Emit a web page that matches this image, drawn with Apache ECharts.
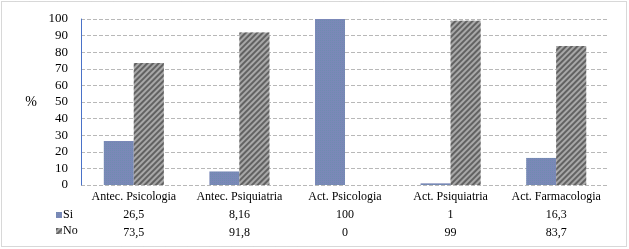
<!DOCTYPE html>
<html><head><meta charset="utf-8">
<script src="https://cdn.jsdelivr.net/npm/echarts@6/dist/echarts.min.js"></script>
<style>html,body{margin:0;padding:0;background:#fff}#c{width:629px;height:249px}</style>
</head><body><div id="c"></div>
<script>
const categories = ['Antec. Psicologia','Antec. Psiquiatria','Act. Psicologia','Act. Psiquiatria','Act. Farmacologia'];
const siValues = [26.5, 8.16, 100, 1, 16.3];
const noValues = [73.5, 91.8, 0, 99, 83.7];
const siLabels = ['26,5','8,16','100','1','16,3'];
const noLabels = ['73,5','91,8','0','99','83,7'];
const yTicks = [0,10,20,30,40,50,60,70,80,90,100];

const font = '"Liberation Serif", "Times New Roman", serif';
const chart = echarts.init(document.getElementById('c'), null, {renderer:'canvas'});
chart.setOption({
  animation:false,
  backgroundColor:'#fff',
  textStyle:{fontFamily:font},
  grid:{left:81,right:20,top:19,bottom:64},
  legend:{
    orient:'vertical', left:51, top:204, itemWidth:6, itemHeight:6, itemGap:4,
    icon:'rect',
    textStyle:{fontFamily:font,fontSize:12,color:'#000',padding:[0,0,0,-4]},
    data:['Si','No']
  },
  xAxis:{
    type:'category', data:categories,
    axisLine:{show:false},
    axisTick:{show:false},
    axisLabel:{
      interval:0, margin:3, fontFamily:font, fontSize:12, color:'#000', lineHeight:18,
      formatter:(v,i)=> v+'\n'+siLabels[i]+'\n'+noLabels[i]
    }
  },
  yAxis:{
    type:'value', min:yTicks[0], max:yTicks[yTicks.length-1], interval:10,
    name:'%', nameLocation:'middle', nameRotate:0, nameGap:44,
    nameTextStyle:{fontFamily:font,fontSize:14,color:'#000'},
    axisLine:{show:true,lineStyle:{color:'#4a72c8',width:1}},
    axisTick:{show:false},
    axisLabel:{margin:13,fontFamily:font,fontSize:13,color:'#000'},
    splitLine:{show:true,lineStyle:{color:'#b8b8b8',type:[4,2],width:1}}
  },
  series:[
    {name:'Si',type:'bar',data:siValues,barWidth:30,barGap:'0%',
     itemStyle:{color:'#7b88b8',decal:{symbol:'rect',color:'rgba(90,150,160,0.35)',dashArrayX:[1,1],dashArrayY:[1,1],symbolSize:1}}},
    {name:'No',type:'bar',data:noValues,barWidth:30,barGap:'0%',
     itemStyle:{color:'#a8a8a8',decal:{symbol:'rect',color:'#626262',dashArrayX:[1,0],dashArrayY:[1.5,1.5],rotation:-Math.PI/4,symbolSize:1}}}
  ],
  graphic:[{type:'rect',shape:{x:1.5,y:1.5,width:625,height:245},
    style:{fill:'none',stroke:'#b0b0b0',lineWidth:1,lineDash:[1,1]},silent:true,z:-1}]
});
</script></body></html>
